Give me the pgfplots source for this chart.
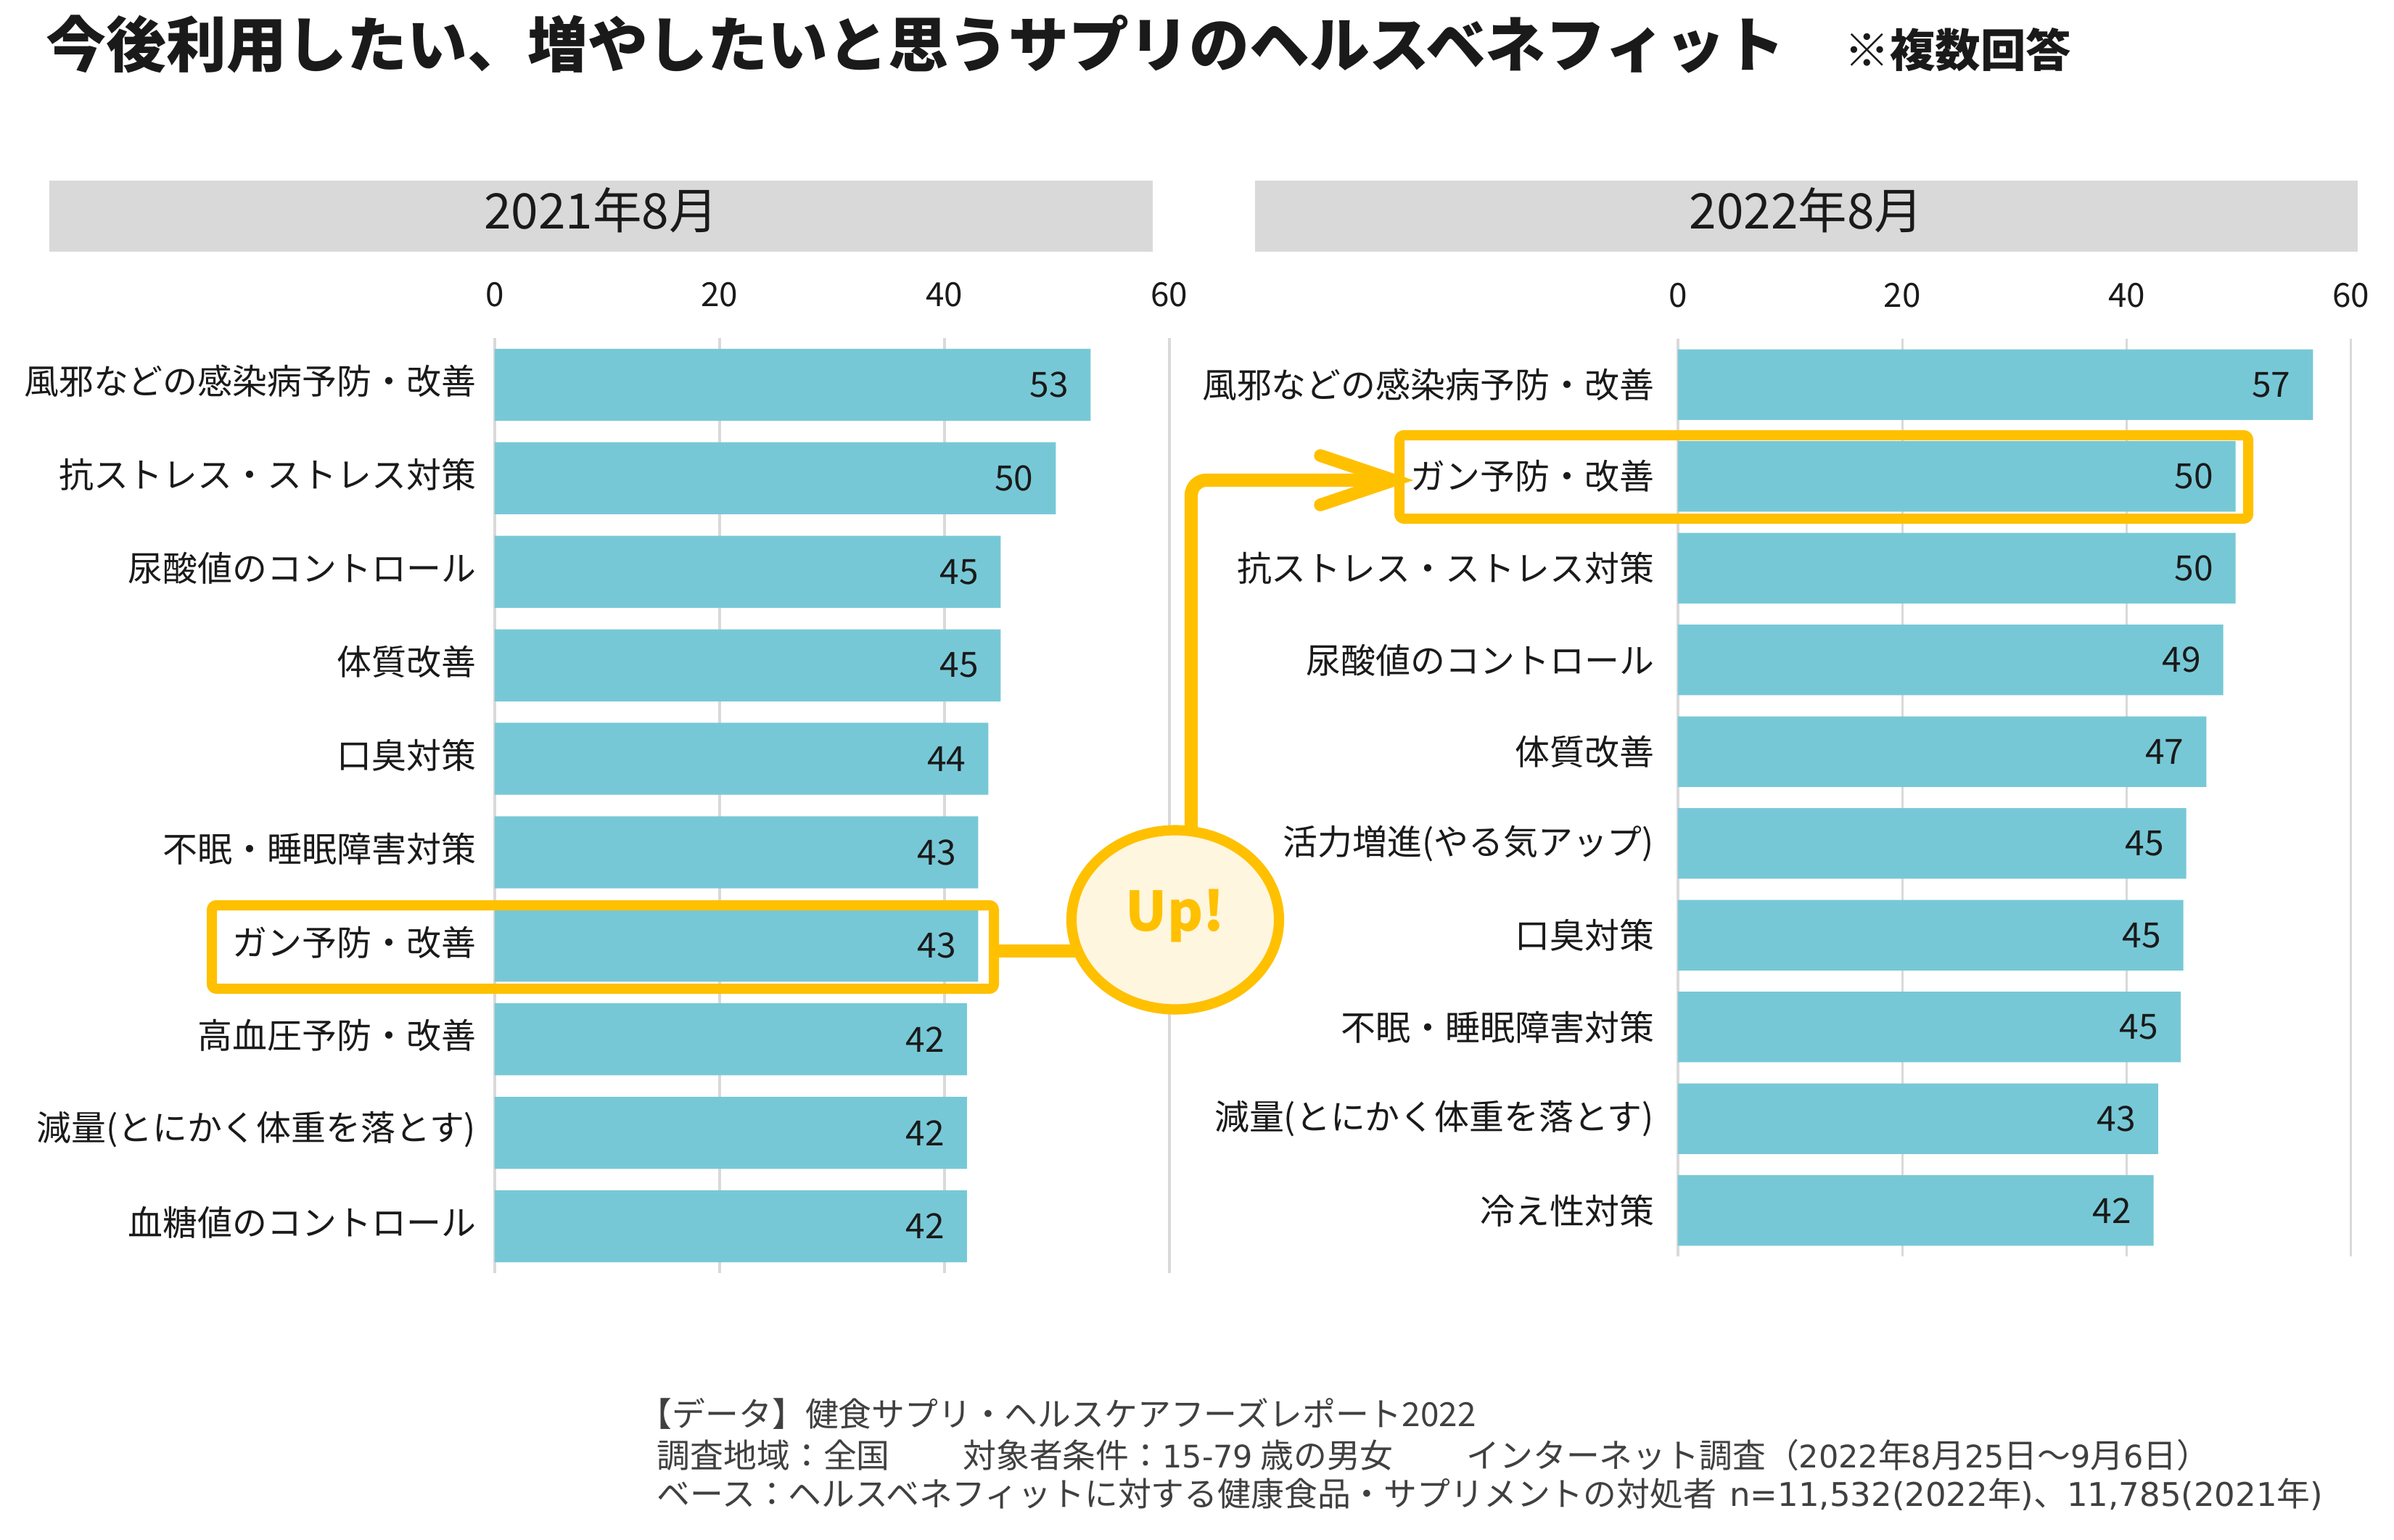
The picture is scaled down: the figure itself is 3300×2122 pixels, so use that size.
\documentclass[border=0pt]{standalone}
\usepackage{fontspec}
\setmainfont{Noto Sans CJK JP}
\newfontfamily\numf{DejaVu Sans}
\usepackage{pgfplots}
\usepackage{pgfplotstable}
\pgfplotsset{compat=1.18}
\definecolor{barc}{HTML}{77C8D6}
\definecolor{hdr}{HTML}{D9D9D9}
\definecolor{ylw}{HTML}{FFC000}
\definecolor{cfill}{HTML}{FEF6DE}
\definecolor{gridc}{HTML}{D9D9D9}
\definecolor{foot}{HTML}{404040}
\definecolor{txt}{HTML}{1A1A1A}

\pgfplotstableread{
i v
0 53.0
1 49.9
2 45.0
3 45.0
4 43.9
5 43.0
6 43.0
7 42.0
8 42.0
9 42.0
}\lefttab

\pgfplotstableread{
i v
0 56.6
1 49.7
2 49.7
3 48.6
4 47.1
5 45.3
6 45.05
7 44.8
8 42.8
9 42.4
}\righttab

\pgfplotsset{panel/.style={
  scale only axis,
  xbar, bar width=0.77, bar shift=0pt,
  xmin=0, xmax=60, xtick={0,20,40,60},
  ymin=-0.5, ymax=9.5, y dir=reverse,
  ytick={0,...,9},
  xticklabel pos=upper,
  axis line style={draw=none},
  major tick length=0pt,
  xmajorgrids, grid style={gridc, line width=0.75pt},
  /pgf/number format/assume math mode=true,
  xticklabel style={font=\fontsize{11}{13}\selectfont, text=txt, inner sep=0pt, yshift=10pt},
  yticklabel style={font=\fontsize{11.5}{14}\selectfont, text=txt},
  point meta=x,
  nodes near coords={\pgfmathprintnumber[fixed,precision=0,assume math mode=true]{\pgfplotspointmeta}},
  every node near coord/.append style={anchor=east, inner sep=0pt, xshift=-7.2pt, font=\fontsize{11.5}{13}\selectfont, text=txt},
}}

\begin{document}
\begin{tikzpicture}
\begin{scope}[x=0.24pt,y=-0.24pt]
\fill[white] (0,0) rectangle (3300,2122);
\fill[hdr] (68,249) rectangle (1589,347);
\fill[hdr] (1730,249) rectangle (3250,347);
\node[text=txt, font=\fontsize{16.2}{19}\selectfont] at (828.5,290) {2021年8月};
\node[text=txt, font=\fontsize{16.2}{19}\selectfont] at (2490,290) {2022年8月};
\node[anchor=base west, inner sep=0pt, text=txt, font=\bfseries\fontsize{19.9}{24}\selectfont] at (63,92) {今後利用したい、増やしたいと思うサプリのヘルスベネフィット};
\node[anchor=base west, inner sep=0pt, text=txt, font=\bfseries\fontsize{15}{18}\selectfont] at (2542,92) {※複数回答};
\end{scope}

\begin{axis}[panel, at={(163.68pt,-421.2pt)}, anchor=south west,
  width=223.2pt, height=309.36pt,
  yticklabel style={inner sep=0pt, xshift=-6pt, yshift=1.2pt},
  yticklabels={風邪などの感染病予防・改善, 抗ストレス・ストレス対策, 尿酸値のコントロール, 体質改善, 口臭対策, 不眠・睡眠障害対策, ガン予防・改善, 高血圧予防・改善, 減量(とにかく体重を落とす), 血糖値のコントロール}]
\addplot[fill=barc, draw=none] table[x=v, y=i] {\lefttab};
\end{axis}

\begin{axis}[panel, at={(555.12pt,-415.68pt)}, anchor=south west,
  width=222.72pt, height=303.6pt,
  yticklabel style={inner sep=0pt, xshift=-7.7pt},
  yticklabels={風邪などの感染病予防・改善, ガン予防・改善, 抗ストレス・ストレス対策, 尿酸値のコントロール, 体質改善, 活力増進(やる気アップ), 口臭対策, 不眠・睡眠障害対策, 減量(とにかく体重を落とす), 冷え性対策}]
\addplot[fill=barc, draw=none] table[x=v, y=i] {\righttab};
\end{axis}

\begin{scope}[x=0.24pt,y=-0.24pt]
% highlight boxes
\draw[ylw, line width=3.36pt, rounded corners=1.5pt] (292,1248) rectangle (1370,1363);
\draw[ylw, line width=3.36pt, rounded corners=1.5pt] (1929,600) rectangle (3099,715);
% connectors
\draw[ylw, line width=4.3pt] (1376,1311) -- (1490,1311);
\draw[ylw, line width=4.4pt, rounded corners=5pt] (1642,1160) -- (1642,662) -- (1915,662);
\draw[ylw, line width=4.2pt, line cap=round, line join=miter] (1820,628) -- (1921,662) -- (1820,696);
% Up! bubble
\draw[ylw, line width=3.4pt, fill=cfill] (1620,1268) ellipse [x radius=143, y radius=123.5];
\node[text=ylw, font=\bfseries\fontsize{18}{21}\selectfont] at (1620,1262) {Up!};
% footnote
\node[anchor=west, inner sep=0pt, text=foot, font=\fontsize{11}{13}\selectfont] at (880,1949) {【データ】健食サプリ・ヘルスケアフーズレポート2022};
\node[anchor=west, inner sep=0pt, text=foot, font=\fontsize{11}{13}\selectfont] at (905,2006) {調査地域：全国\hspace{2.2em}対象者条件：{\numf\fontsize{10.3}{13}\selectfont 15-79} 歳の男女\hspace{2.2em}インターネット調査（{\numf\fontsize{10.3}{13}\selectfont 2022}年{\numf\fontsize{10.3}{13}\selectfont 8}月{\numf\fontsize{10.3}{13}\selectfont 25}日～{\numf\fontsize{10.3}{13}\selectfont 9}月{\numf\fontsize{10.3}{13}\selectfont 6}日）};
\node[anchor=west, inner sep=0pt, text=foot, font=\fontsize{11}{13}\selectfont] at (905,2060) {ベース：ヘルスベネフィットに対する健康食品・サプリメントの対処者\hspace{0.4em}{\numf\fontsize{10.8}{13}\selectfont n=11,532(2022}年{\numf\fontsize{10.8}{13}\selectfont )}、{\numf\fontsize{10.8}{13}\selectfont 11,785(2021}年{\numf\fontsize{10.8}{13}\selectfont )}};
\end{scope}
\end{tikzpicture}
\end{document}
